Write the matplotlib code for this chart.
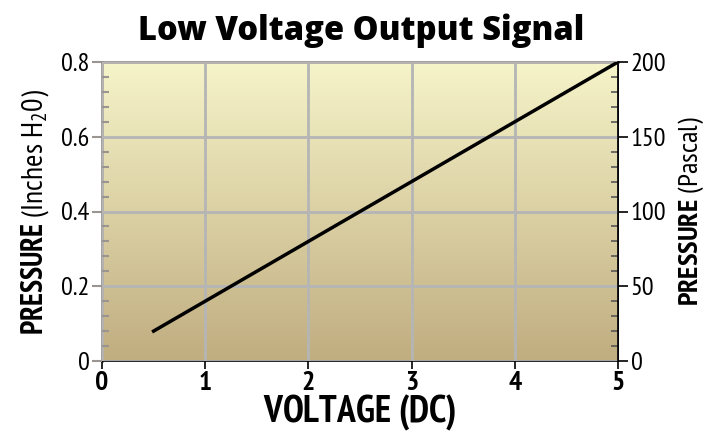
import numpy as np
import matplotlib
matplotlib.use('Agg')
import matplotlib.pyplot as plt
from matplotlib.colors import LinearSegmentedColormap

# data
voltage = [0.5, 5.0]
pressure_inh2o = [0.08, 0.8]
x_ticks = [0, 1, 2, 3, 4, 5]
y_ticks = [0, 0.2, 0.4, 0.6, 0.8]
y_tick_labels = ['0', '0.2', '0.4', '0.6', '0.8']
pa_ticks = [0, 50, 100, 150, 200]

narrow = 'PT Sans Narrow'
plt.rcParams['font.family'] = [narrow, 'DejaVu Sans']
plt.rcParams['mathtext.fontset'] = 'custom'
plt.rcParams['mathtext.rm'] = narrow
plt.rcParams['mathtext.bf'] = narrow + ':bold'
plt.rcParams['mathtext.it'] = narrow

fig = plt.figure(figsize=(7.15, 4.37), dpi=100)
ax = fig.add_axes([102/715, 1 - 361/437, 516/715, 299/437])

# background gradient
cmap = LinearSegmentedColormap.from_list('bg', ['#c0ad80', '#f6f4c9'])
grad = np.linspace(0, 1, 256).reshape(-1, 1)
ax.imshow(grad, aspect='auto', cmap=cmap, origin='lower',
          extent=[0, 5, 0, 0.8], zorder=0)

ax.set_xlim(0, 5)
ax.set_ylim(0, 0.8)
ax.set_xticks(x_ticks)
ax.set_xticklabels([str(t) for t in x_ticks], fontweight='bold', fontsize=20)
ax.set_yticks(y_ticks)
ax.set_yticklabels(y_tick_labels, fontsize=19)
ax.set_yticks(np.arange(0, 0.81, 0.04), minor=True)

ax.grid(True, color='#b5b5b5', linewidth=2, zorder=1)
ax.set_axisbelow(False)
ax.plot(voltage, pressure_inh2o, color='black', linewidth=2.5, zorder=3)

for s in ['left', 'top']:
    ax.spines[s].set_color('#9a9590')
    ax.spines[s].set_linewidth(2)
ax.spines['bottom'].set_color('black')
ax.spines['right'].set_color('black')
ax.spines['bottom'].set_linewidth(1.2)
ax.spines['right'].set_linewidth(1.2)

ax.tick_params(axis='y', which='major', direction='out', length=7, width=1.5,
               color='#9a9590', pad=2)
ax.tick_params(axis='y', which='minor', direction='in', length=5, width=1.5,
               color='#9a9590')
ax.tick_params(axis='x', which='major', direction='out', length=6, width=1.2,
               color='black', pad=1)

ax.set_xlabel(r'$\mathbf{VOLTAGE}$ (DC)', fontsize=27, fontweight='bold', labelpad=-1)
ax.set_ylabel(r'$\mathbf{PRESSURE}$ (Inches H$_2$0)', fontsize=21.5, labelpad=7)

ax2 = ax.twinx()
ax2.set_ylim(0, 200)
ax2.set_yticks(pa_ticks)
ax2.set_yticklabels([str(t) for t in pa_ticks], fontsize=19)
ax2.set_yticks(np.arange(0, 201, 10), minor=True)
ax2.tick_params(axis='y', which='major', direction='out', length=7, width=1.2,
                color='black', pad=2)
ax2.tick_params(axis='y', which='minor', direction='in', length=5, width=1.2,
                color='#555555')
for s in ['left', 'top', 'bottom']:
    ax2.spines[s].set_visible(False)
ax2.spines['right'].set_color('black')
ax2.spines['right'].set_linewidth(1.2)
ax2.set_ylabel(r'$\mathbf{PRESSURE}$ (Pascal)', fontsize=20.5, labelpad=8)

fig.text(0.505, 0.93, 'Low Voltage Output Signal', ha='center', va='center',
         fontsize=23.5, fontweight=800, family=['Open Sans', 'DejaVu Sans'])

fig.savefig('out.png', dpi=100)
